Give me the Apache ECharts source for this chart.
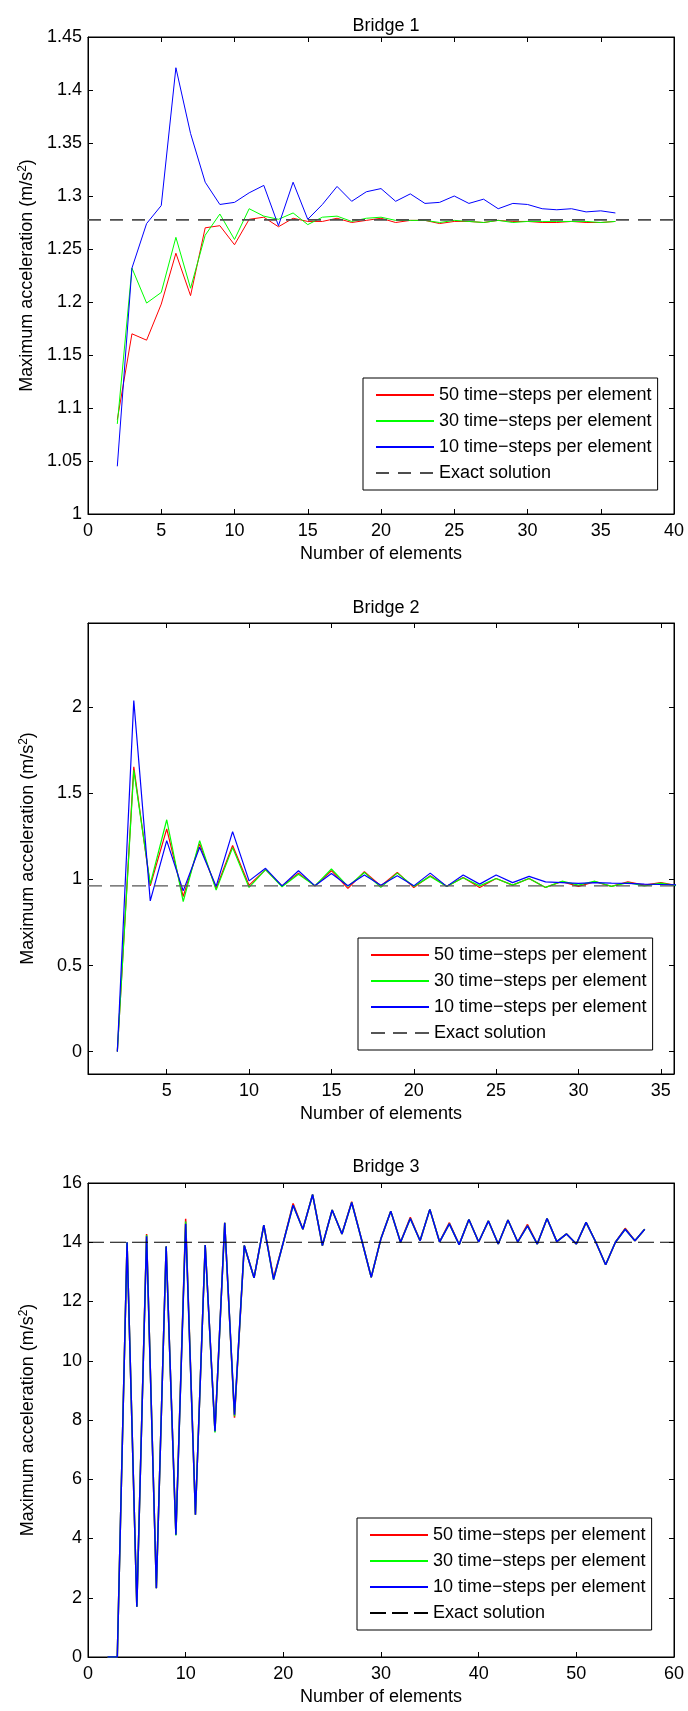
<!DOCTYPE html>
<html><head><meta charset="utf-8">
<script src="https://cdn.jsdelivr.net/npm/echarts@6/dist/echarts.min.js"></script>
<style>html,body{margin:0;padding:0;background:#fff;width:688px;height:1711px;overflow:hidden}
.c{position:absolute;left:0;width:688px}</style></head>
<body>
<div id="c1" class="c" style="top:0;height:575px"></div>
<div id="c2" class="c" style="top:575px;height:560px"></div>
<div id="c3" class="c" style="top:1135px;height:576px"></div>
<script>
// ---------- Data ----------
const seriesNames = ['50 time\u2212steps per element', '30 time\u2212steps per element', '10 time\u2212steps per element', 'Exact solution'];

// Bridge 1
const b1X = [2,3,4,5,6,7,8,9,10,11,12,13,14,15,16,17,18,19,20,21,22,23,24,25,26,27,28,29,30,31,32,33,34,35,36];
const b1Red = [1.089,1.170,1.164,1.198,1.246,1.206,1.270,1.272,1.254,1.278,1.280,1.271,1.279,1.276,1.276,1.279,1.275,1.277,1.279,1.275,1.277,1.277,1.274,1.276,1.276,1.275,1.277,1.276,1.276,1.275,1.275,1.276,1.275,1.275,1.276];
const b1Green = [1.085,1.232,1.199,1.209,1.261,1.213,1.263,1.283,1.259,1.288,1.281,1.278,1.284,1.273,1.280,1.281,1.276,1.279,1.280,1.277,1.277,1.277,1.275,1.277,1.276,1.275,1.277,1.275,1.276,1.276,1.276,1.276,1.276,1.275,1.276];
const b1Blue = [1.045,1.232,1.274,1.291,1.421,1.359,1.313,1.292,1.294,1.303,1.310,1.272,1.313,1.278,1.292,1.309,1.295,1.304,1.307,1.295,1.302,1.293,1.294,1.300,1.293,1.297,1.288,1.293,1.292,1.288,1.287,1.288,1.285,1.286,1.284];
const b1Exact = 1.2774;
const b1XTicks = [0,5,10,15,20,25,30,35,40];
const b1YTicks = [1,1.05,1.1,1.15,1.2,1.25,1.3,1.35,1.4,1.45];

// Bridge 2
const b2X = [2,3,4,5,6,7,8,9,10,11,12,13,14,15,16,17,18,19,20,21,22,23,24,25,26,27,28,29,30,31,32,33,34,35,36];
const b2Red = [0,1.654,0.963,1.294,0.901,1.207,0.948,1.197,0.967,1.057,0.963,1.037,0.963,1.051,0.948,1.045,0.963,1.041,0.953,1.022,0.960,1.012,0.954,1.006,0.967,1.006,0.954,0.988,0.960,0.988,0.960,0.986,0.967,0.982,0.965];
const b2Green = [0,1.635,0.973,1.347,0.872,1.226,0.938,1.185,0.954,1.057,0.958,1.031,0.963,1.061,0.960,1.041,0.954,1.037,0.960,1.018,0.960,1.010,0.963,1.006,0.967,1.006,0.954,0.990,0.967,0.990,0.960,0.982,0.963,0.979,0.963];
const b2Blue = [0,2.04,0.876,1.226,0.934,1.187,0.960,1.278,0.992,1.065,0.963,1.051,0.963,1.035,0.963,1.026,0.967,1.022,0.963,1.037,0.960,1.026,0.973,1.026,0.982,1.018,0.986,0.982,0.977,0.982,0.979,0.977,0.973,0.971,0.969];
const b2Exact = 0.963;
const b2XTicks = [5,10,15,20,25,30,35];
const b2YTicks = [0,0.5,1,1.5,2];

// Bridge 3
const b3X = [2,3,4,5,6,7,8,9,10,11,12,13,14,15,16,17,18,19,20,21,22,23,24,25,26,27,28,29,30,31,32,33,34,35,36,37,38,39,40,41,42,43,44,45,46,47,48,49,50,51,52,53,54,55,56,57];
const b3Red = [0,0,14.0,1.70,14.28,2.32,13.86,4.13,14.79,4.80,13.91,7.62,14.66,8.08,13.89,12.80,14.58,12.80,14.0,15.31,14.44,15.61,13.89,15.09,14.28,15.37,14.1,12.82,14.13,15.05,14.0,14.84,14.05,15.11,14.01,14.66,13.92,14.77,14.01,14.72,13.94,14.75,14.01,14.60,13.94,14.8,14.02,14.28,13.94,14.67,14.0,13.24,14.0,14.47,14.05,14.44];
const b3Green = [0,0,14.0,1.70,14.24,2.32,13.86,4.10,14.70,4.80,13.91,7.58,14.66,8.13,13.89,12.80,14.58,12.74,14.0,15.25,14.44,15.61,13.89,15.09,14.28,15.34,14.1,12.82,14.13,15.05,14.0,14.8,14.05,15.11,14.01,14.62,13.92,14.77,14.01,14.72,13.94,14.75,14.01,14.55,13.94,14.8,14.02,14.28,13.94,14.67,14.0,13.24,14.0,14.44,14.05,14.44];
const b3Blue = [0,0,14.0,1.70,14.20,2.32,13.86,4.13,14.62,4.80,13.91,7.62,14.66,8.18,13.89,12.80,14.58,12.74,14.0,15.25,14.44,15.61,13.89,15.09,14.28,15.34,14.1,12.82,14.13,15.05,14.0,14.8,14.05,15.11,14.01,14.62,13.92,14.77,14.01,14.72,13.94,14.75,14.01,14.55,13.94,14.8,14.02,14.28,13.94,14.67,14.0,13.24,14.0,14.44,14.05,14.44];
const b3Exact = 14.0;
const b3XTicks = [0,10,20,30,40,50,60];
const b3YTicks = [0,2,4,6,8,10,12,14,16];

// ---------- Rendering ----------
const FONT = '"Liberation Sans", Arial, Helvetica, sans-serif';
function fmt(v){ return String(+(+v).toFixed(2)); }

function build(el, c) {
  const chart = echarts.init(el, null, {renderer:'canvas'});
  const pair = (xs, ys) => xs.map((x, i) => [x, ys[i]]);
  const tickStyle = {color:'#000', width:1};
  const xBase = {type:'value', min:c.xMin, max:c.xMax, splitLine:{show:false}, gridIndex:0,
    axisLine:{show:true, onZero:false, lineStyle:{color:'#000', width:1}}};
  const yBase = {type:'value', min:c.yMin, max:c.yMax, splitLine:{show:false}, gridIndex:0,
    axisLine:{show:true, onZero:false, lineStyle:{color:'#000', width:1}}};
  const lineSer = (name, ys, color, w) => ({
    name, type:'line', xAxisIndex:0, yAxisIndex:0, data:pair(c.x, ys), symbol:'none',
    clip:true, lineStyle:{color, width:w}, itemStyle:{color}
  });
  const option = {
    animation:false,
    textStyle:{fontFamily:FONT},
    title:{text:c.title, left:381, top:c.titleTop, textAlign:'center',
      textStyle:{fontSize:18, fontWeight:'normal', color:'#000', fontFamily:FONT}},
    grid:{left:88, top:c.gridTop, width:586, height:c.gridH, show:true, borderColor:'#000', borderWidth:1, backgroundColor:'#fff'},
    legend:{data:seriesNames, orient:'vertical', left:c.legLeft, top:c.legTop,
      itemWidth:58, itemHeight:14, itemGap:8, padding:[8,6,8,12],
      backgroundColor:'#fff', borderColor:'#000', borderWidth:1, borderRadius:0,
      itemStyle:{opacity:0},
      textStyle:{fontSize:18, color:'#000', fontFamily:FONT}, selectedMode:false},
    xAxis:[
      Object.assign({}, xBase, {position:'bottom',
        axisTick:{inside:true, length:5, customValues:c.xTicks, lineStyle:tickStyle},
        axisLabel:{customValues:c.xTicks, margin:8, fontSize:18, color:'#000', fontFamily:FONT, formatter:fmt},
        name:'Number of elements', nameLocation:'middle', nameGap:31,
        nameTextStyle:{fontSize:18, color:'#000', fontFamily:FONT}}),
      Object.assign({}, xBase, {position:'top',
        axisTick:{inside:true, length:5, customValues:c.xTicks, lineStyle:tickStyle},
        axisLabel:{show:false}})
    ],
    yAxis:[
      Object.assign({}, yBase, {position:'left',
        axisTick:{inside:true, length:5, customValues:c.yTicks, lineStyle:tickStyle},
        axisLabel:{customValues:c.yTicks, margin:6, fontSize:18, color:'#000', fontFamily:FONT, formatter:fmt},
        name:'Maximum acceleration (m/s{sup|2})', nameLocation:'middle', nameRotate:90, nameGap:c.nameGap,
        nameTextStyle:{fontSize:18, color:'#000', fontFamily:FONT,
          rich:{sup:{fontSize:12, color:'#000', fontFamily:FONT, verticalAlign:'top', padding:[0,0,8,0]}}}}),
      Object.assign({}, yBase, {position:'right',
        axisTick:{inside:true, length:5, customValues:c.yTicks, lineStyle:tickStyle},
        axisLabel:{show:false}})
    ],
    series:[
      lineSer(seriesNames[0], c.red, '#ff0000', c.lw),
      lineSer(seriesNames[1], c.green, '#00ff00', c.lw),
      lineSer(seriesNames[2], c.blue, '#0000ff', c.lw),
      {name:seriesNames[3], type:'line', xAxisIndex:0, yAxisIndex:0, symbol:'none', clip:true,
       data:[[c.xMin, c.exact],[c.xMax, c.exact]],
       lineStyle:{color:c.exColor, width:c.exW, type:c.exDash}, itemStyle:{color:c.exColor}}
    ]
  };
  chart.setOption(option);
}

build(document.getElementById('c1'), {
  title:'Bridge 1', titleTop:12, gridTop:37, gridH:477,
  xMin:0, xMax:40, yMin:1, yMax:1.45, xTicks:b1XTicks, yTicks:b1YTicks,
  x:b1X, red:b1Red, green:b1Green, blue:b1Blue, exact:b1Exact, lw:1,
  exColor:'#4d4d4d', exW:1.8, exDash:[13,9], legLeft:363, legTop:378, nameGap:50
});
build(document.getElementById('c2'), {
  title:'Bridge 2', titleTop:19, gridTop:48, gridH:451,
  xMin:0.22, xMax:35.8, yMin:-0.13, yMax:2.49, xTicks:b2XTicks, yTicks:b2YTicks,
  x:b2X, red:b2Red, green:b2Green, blue:b2Blue, exact:b2Exact, lw:1.2,
  exColor:'#555555', exW:1.3, exDash:[14,8], legLeft:358, legTop:363, nameGap:50
});
build(document.getElementById('c3'), {
  title:'Bridge 3', titleTop:18, gridTop:48, gridH:477,
  xMin:0, xMax:60, yMin:0, yMax:16, xTicks:b3XTicks, yTicks:b3YTicks,
  x:b3X, red:b3Red, green:b3Green, blue:b3Blue, exact:b3Exact, lw:1.5,
  exColor:'#000000', exW:1, exDash:[16,6], legLeft:357, legTop:383, nameGap:50
});
</script>
</body></html>
